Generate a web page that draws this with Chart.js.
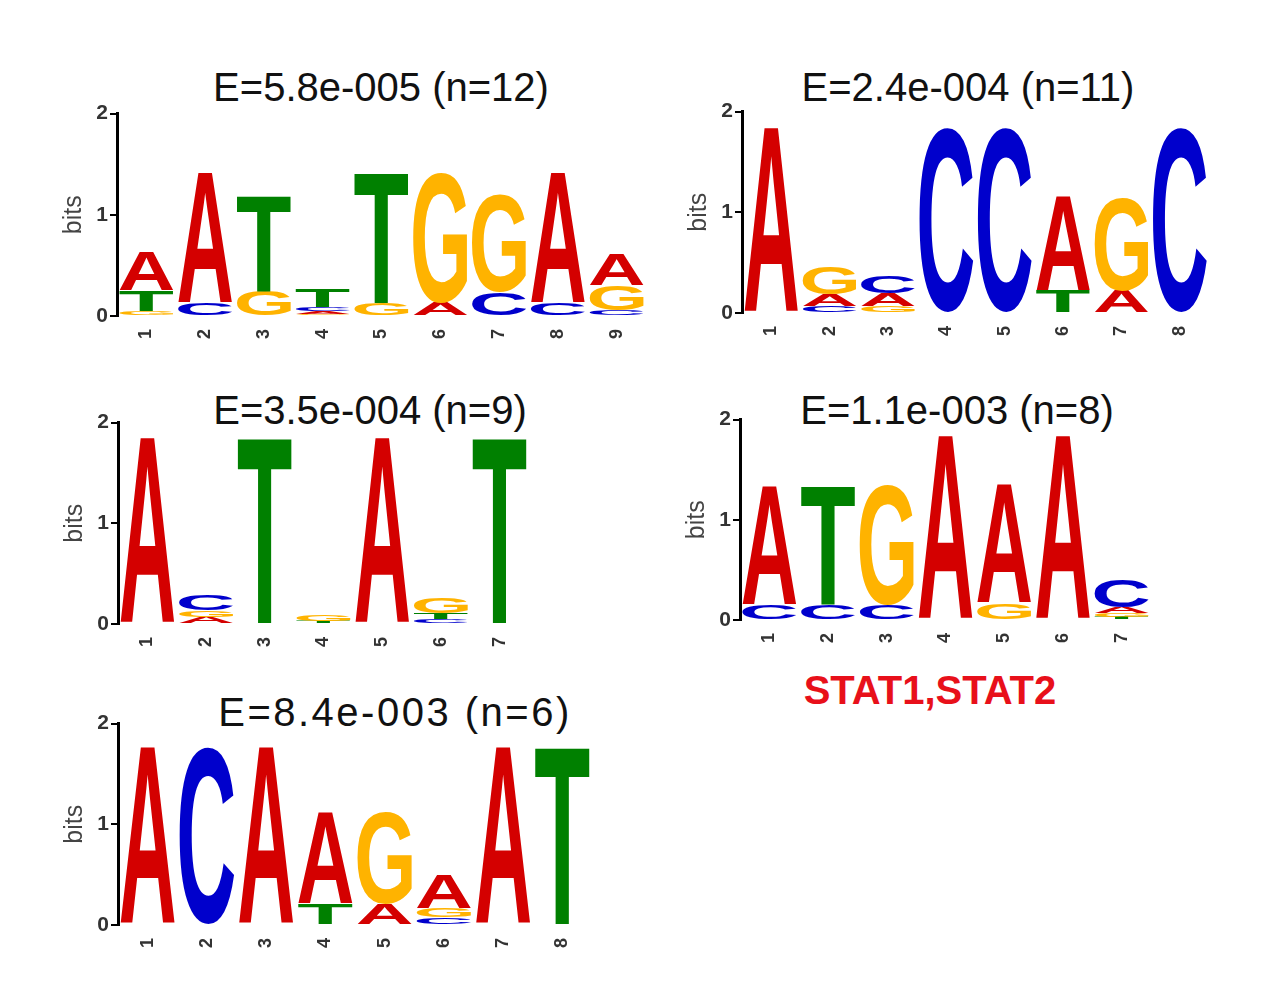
<!DOCTYPE html>
<html>
<head>
<meta charset="utf-8">
<script src="https://cdn.jsdelivr.net/npm/chart.js@4.4.0/dist/chart.umd.min.js"></script>
<style>
body { margin: 0; background: #fff; width: 1279px; height: 1003px; position: relative; overflow: hidden; font-family: "Liberation Sans", Arial, sans-serif; }
canvas { position: absolute; }
.ttl { position: absolute; width: 600px; text-align: center; font-size: 40px; line-height: 40px; color: #111; white-space: nowrap; }
#tf { position: absolute; width: 600px; text-align: center; font-size: 40px; line-height: 40px; font-weight: bold; color: #e8101a; }
</style>
</head>
<body>
<div class="ttl" style="left:81px;top:67px">E=5.8e-005 (n=12)</div>
<div class="ttl" style="left:668px;top:67px">E=2.4e-004 (n=11)</div>
<div class="ttl" style="left:70px;top:390px">E=3.5e-004 (n=9)</div>
<div class="ttl" style="left:657px;top:390px">E=1.1e-003 (n=8)</div>
<div class="ttl" style="left:95px;top:692px;letter-spacing:2.5px">E=8.4e-003 (n=6)</div>
<div id="tf" style="left:630px;top:670px">STAT1,STAT2</div>

<canvas id="c1"></canvas>
<canvas id="c2"></canvas>
<canvas id="c3"></canvas>
<canvas id="c4"></canvas>
<canvas id="c5"></canvas>

<script>
// bits per letter at each motif position
var m1A = [0.38, 1.29, 0,    0.03, 0,    0.13, 0,    1.29, 0.30];
var m1C = [0,    0.13, 0,    0.04, 0,    0,    0.23, 0.13, 0.06];
var m1G = [0.05, 0,    0.25, 0.02, 0.13, 1.29, 0.96, 0,    0.24];
var m1T = [0.20, 0,    0.94, 0.18, 1.29, 0,    0,    0,    0];

var m2A = [1.84, 0.11, 0.13, 0,    0,    0.93, 0.22, 0];
var m2C = [0,    0.07, 0.17, 1.84, 1.84, 0,    0,    1.84];
var m2G = [0,    0.28, 0.07, 0,    0,    0,    0.93, 0];
var m2T = [0,    0,    0,    0,    0,    0.22, 0,    0];

var m3A = [1.85, 0.06, 0,    0.01, 1.85, 0,    0];
var m3C = [0,    0.16, 0,    0,    0,    0.05, 0];
var m3G = [0,    0.07, 0,    0.06, 0,    0.16, 0];
var m3T = [0,    0.01, 1.85, 0.02, 0,    0.06, 1.85];

var m4A = [1.19, 0,    0,    1.84, 1.18, 1.84, 0.06];
var m4C = [0.15, 0.15, 0.15, 0,    0,    0,    0.27];
var m4G = [0,    0,    1.19, 0,    0.17, 0,    0.04];
var m4T = [0,    1.19, 0,    0,    0,    0,    0.03];

var m5A = [1.77, 0,    1.77, 0.91, 0.21, 0.33, 1.77, 0];
var m5C = [0,    1.77, 0,    0,    0,    0.08, 0,    0];
var m5G = [0,    0,    0,    0,    0.91, 0.09, 0,    0];
var m5T = [0,    0,    0,    0.21, 0,    0,    0,    1.77];

var yTicks = [0, 1, 2];
var letterColors = { A: '#d40000', C: '#0000cc', G: '#ffb300', T: '#008000' };

// where each logo's plot area sits on the page
var panels = [
  { id: 'c1', left: 117, top: 113, bottom: 316, right: 646, m: [m1A, m1C, m1G, m1T] },
  { id: 'c2', left: 742, top: 111, bottom: 313, right: 1209, m: [m2A, m2C, m2G, m2T] },
  { id: 'c3', left: 118, top: 422, bottom: 624, right: 529, m: [m3A, m3C, m3G, m3T] },
  { id: 'c4', left: 740, top: 419, bottom: 620, right: 1151, m: [m4A, m4C, m4G, m4T] },
  { id: 'c5', left: 118, top: 723, bottom: 925, right: 592, m: [m5A, m5C, m5G, m5T] }
];

function drawLetter(ctx, ch, x, y, w, h, color) {
  ctx.save();
  ctx.font = 'bold 200px "Liberation Sans", Arial';
  var m = ctx.measureText(ch);
  var gw = m.actualBoundingBoxLeft + m.actualBoundingBoxRight;
  var gh = m.actualBoundingBoxAscent + m.actualBoundingBoxDescent;
  ctx.translate(x, y);
  ctx.scale(w / gw, h / gh);
  ctx.fillStyle = color;
  ctx.textAlign = 'left';
  ctx.textBaseline = 'alphabetic';
  ctx.fillText(ch, m.actualBoundingBoxLeft, m.actualBoundingBoxAscent);
  ctx.restore();
}

var logoLetters = {
  id: 'logoLetters',
  afterDatasetsDraw: function(chart) {
    var ctx = chart.ctx;
    chart.data.datasets.forEach(function(ds, di) {
      var meta = chart.getDatasetMeta(di);
      meta.data.forEach(function(el, i) {
        if (!(ds.data[i] > 0.004)) return;
        var p = el.getProps(['x', 'y', 'base', 'width'], true);
        var ch = ds.letters[i];
        drawLetter(ctx, ch, p.x - p.width / 2, p.y, p.width, p.base - p.y, letterColors[ch]);
      });
    });
  }
};

// stack letters smallest at the bottom, biggest on top
function buildDatasets(m) {
  var names = ['A', 'C', 'G', 'T'];
  var n = m[0].length;
  var sets = [];
  for (var r = 0; r < 4; r++) sets.push({ data: [], letters: [], backgroundColor: 'rgba(0,0,0,0)', borderWidth: 0, barPercentage: 0.92, categoryPercentage: 1.0 });
  for (var i = 0; i < n; i++) {
    var col = names.map(function(l, k) { return { l: l, v: m[k][i] }; });
    col.sort(function(a, b) { return a.v - b.v; });
    col.forEach(function(c, r) {
      sets[r].data.push(c.v);
      sets[r].letters.push(c.l);
    });
  }
  return sets;
}

panels.forEach(function(pn) {
  var cv = document.getElementById(pn.id);
  var cl = pn.left - 60, ct = pn.top - 14;
  cv.width = pn.right - cl;
  cv.height = pn.bottom + 40 - ct;
  cv.style.left = cl + 'px';
  cv.style.top = ct + 'px';

  var labels = [];
  for (var i = 1; i <= pn.m[0].length; i++) labels.push(String(i));

  new Chart(cv.getContext('2d'), {
    type: 'bar',
    data: { labels: labels, datasets: buildDatasets(pn.m) },
    plugins: [logoLetters],
    options: {
      responsive: false,
      animation: false,
      devicePixelRatio: 1,
      layout: { padding: { top: 14, left: 0, right: 0, bottom: 0 } },
      plugins: { legend: { display: false }, tooltip: { enabled: false }, title: { display: false } },
      scales: {
        x: {
          stacked: true,
          afterFit: function(s) { s.height = 40; },
          grid: { display: false },
          border: { display: false },
          ticks: { minRotation: 90, maxRotation: 90, color: '#333', padding: 5, font: { size: 18, weight: 'bold', family: '"Liberation Sans", Arial' } }
        },
        y: {
          stacked: true,
          min: 0,
          max: 2,
          afterFit: function(s) { s.width = 60; },
          afterBuildTicks: function(s) { s.ticks = yTicks.map(function(v) { return { value: v }; }); },
          ticks: { color: '#333', padding: 2, font: { size: 21, weight: 'bold', family: '"Liberation Sans", Arial' } },
          grid: { drawOnChartArea: false, drawTicks: true, tickLength: 7, color: '#000', lineWidth: 2 },
          border: { display: true, color: '#000', width: 3 },
          title: { display: true, text: 'bits', color: '#444', padding: { top: 2, bottom: 0 }, font: { size: 25, family: '"Liberation Sans", Arial' } }
        }
      }
    }
  });
});
</script>
</body>
</html>
